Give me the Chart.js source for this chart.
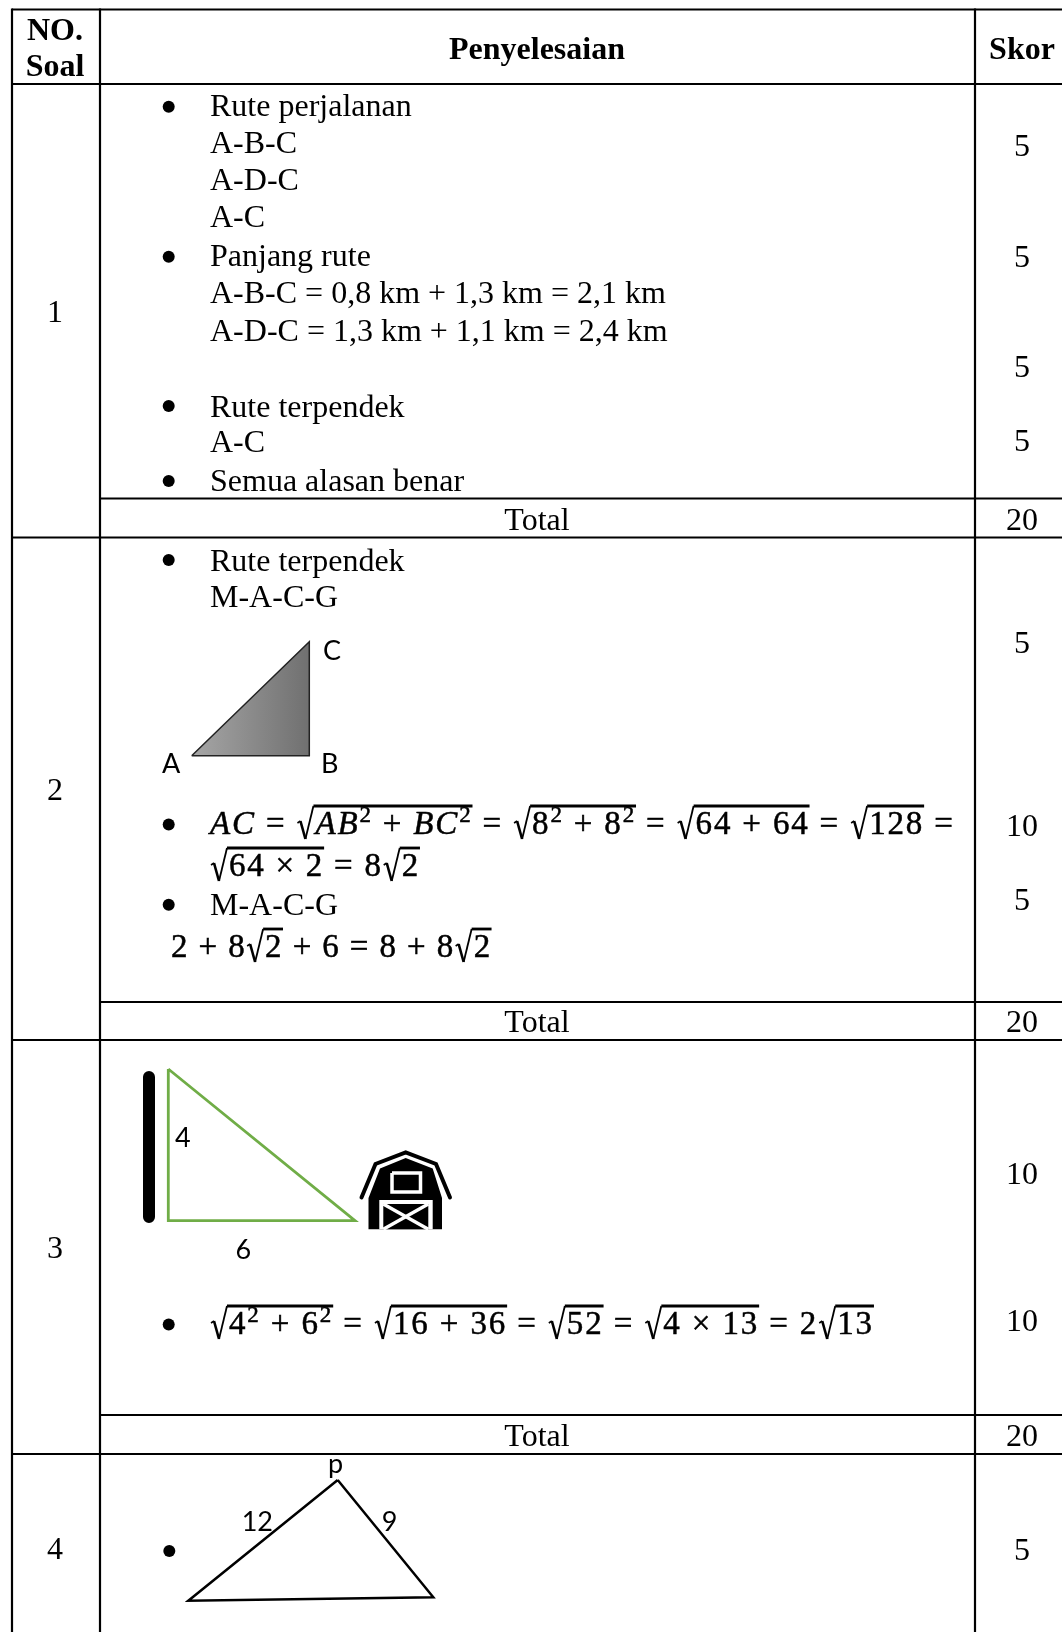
<!DOCTYPE html>
<html>
<head>
<meta charset="utf-8">
<title>Penyelesaian</title>
<script src="https://cdn.jsdelivr.net/npm/chart.js@4"></script>
<style>
  html,body{margin:0;padding:0;background:#fff}
  canvas{display:block}
</style>
</head>
<body>
<canvas id="sheet" width="1062" height="1632"></canvas>
<script>
// table text
const headNo      = ['NO.','Soal'];
const headAnswer  = 'Penyelesaian';
const headScore   = 'Skor';
const soalNumbers = ['1','2','3','4'];
const totalLabel  = 'Total';
const totalScores = ['20','20','20'];
const scores      = ['5','5','5','5','5','10','5','10','10','5'];
const answerLines = ['Rute perjalanan','A-B-C','A-D-C','A-C','Panjang rute',
  'A-B-C = 0,8 km + 1,3 km = 2,1 km','A-D-C = 1,3 km + 1,1 km = 2,4 km',
  'Rute terpendek','A-C','Semua alasan benar','Rute terpendek','M-A-C-G','M-A-C-G'];

// formulas: string = plain run, i = italic, s = superscript, r = under a root
const i = t=>({i:t}), s = t=>({s:t}), r = (...k)=>({r:k});
const formulaA = [i('AC'),' = ',r(i('AB'),s('2'),' + ',i('BC'),s('2')),' = ',r('8',s('2'),' + 8',s('2')),' = ',r('64 + 64'),' = ',r('128'),' ='];
const formulaB = [r('64 × 2'),' = 8',r('2')];
const formulaC = ['2 + 8',r('2'),' + 6 = 8 + 8',r('2')];
const formulaD = [r('4',s('2'),' + 6',s('2')),' = ',r('16 + 36'),' = ',r('52'),' = ',r('4 × 13'),' = 2',r('13')];

// figure labels
const figureLabels = ['A','B','C','4','6','p','12','9'];

// rows of the table, in page units
const columnRules = [12,100,975];
const fullRules   = [9.5,84,537.5,1040,1454];
const totalRules  = [498.5,1002,1415];
const pageRight   = 1062, pageBottom = 1632;

const soalBase    = [322,800,1258,1559];
const totalBase   = [530,1032,1446];
const scoreBase   = [156,267,377,451,653,836,910,1184,1331,1560];
const answerBase  = [116,153,190,227,265.7,303,340.5,416.5,452,491,570.6,607,915];
const bulletY     = [106.7,256.7,406,481,560,824.6,904.8,1324.5,1551];
const formulaBase = [834,876,957,1334];
const formulaLeft = [210,210,171,210];
const formulaTrack = [1.83,1.75,1.4,1.87];
const labelX      = [162,321,323,175,235.5,328,241.7,381.7];
const labelBase   = [772.7,772.7,660,1147,1259,1473,1530.7,1530.7];

// figures
const triangleABC = [[191.7,755.7],[309.3,755.7],[309.3,641.7],[191.7,755.7]];
const triangleGreen = [[168.3,1069],[168.3,1220.7],[355,1220.7],[168.3,1069]];
const wallBar     = [[149,1077],[149,1217]];
const triangleP   = [[337.7,1480],[433.3,1597.3],[188.3,1600.7],[337.7,1480]];
const barnBody    = [[368.5,1229.3],[368.5,1198],[380,1168.5],[405.7,1158],[432.7,1168.5],[442,1198],[442,1229.3],[368.5,1229.3]];
const barnRoof    = [[361.5,1197.5],[375.5,1164],[405.7,1152.5],[436,1164],[450,1197.5]];
const barnWindow  = [[392,1173],[420.5,1173],[420.5,1192],[392,1192],[392,1173]];
const barnDoor    = [[379.3,1229.3],[379.3,1200],[432.7,1200],[432.7,1229.3],[379.3,1229.3]];
const barnPanel   = [[383.3,1229.3],[383.3,1204],[428.3,1204],[428.3,1229.3],[383.3,1229.3]];
const barnCrossA  = [[383.3,1204],[428.3,1229.3]];
const barnCrossB  = [[428.3,1204],[383.3,1229.3]];

const SERIF = '"Liberation Serif","Times New Roman",serif';
const MATH_SIZE = 33, SUP_SIZE = 23, ROOT_W = 19;
const pts = a => a.map(p=>({x:p[0],y:p[1]}));

function rule(data){
  return {data:data, borderColor:'#000', borderWidth:2.2, pointRadius:0, fill:false, tension:0};
}
function shape(data, stroke, width, fillCol){
  return {data:pts(data), borderColor:stroke, borderWidth:width, pointRadius:0, tension:0,
          fill:fillCol?'shape':false, backgroundColor:fillCol||'transparent', borderJoinStyle:'miter'};
}

const datasets = [];
columnRules.forEach(x=>datasets.push(rule([{x:x,y:fullRules[0]-1},{x:x,y:pageBottom}])));
fullRules.forEach(y=>datasets.push(rule([{x:columnRules[0],y:y},{x:pageRight,y:y}])));
totalRules.forEach(y=>datasets.push(rule([{x:columnRules[1],y:y},{x:pageRight,y:y}])));
datasets.push({data:bulletY.map((y,k)=>({x:k===8?169.3:168.7,y:y})), showLine:false,
               pointRadius:6, pointBackgroundColor:'#000', pointBorderWidth:0});

// grey triangle, shaded left to right. canvas and page units are 1:1 here
const sheetCtx = document.getElementById('sheet').getContext('2d');
const greyFill = sheetCtx.createLinearGradient(triangleABC[0][0],0,triangleABC[1][0],0);
greyFill.addColorStop(0,'#a6a6a6'); greyFill.addColorStop(1,'#707070');
datasets.push(shape(triangleABC,'#222',1.5,greyFill));
datasets.push(shape(triangleGreen,'#70ad47',2.8));
datasets.push(Object.assign(shape(wallBar,'#000',12),{borderCapStyle:'round'}));
datasets.push(shape(triangleP,'#000',2.5));
// barn, back to front
datasets.push(shape(barnBody,'#000',0,'#000'));
datasets.push(Object.assign(shape(barnRoof,'#000',4),{borderCapStyle:'round'}));
datasets.push(shape(barnWindow,'#fff',3.5));
datasets.push(shape(barnDoor,'#fff',0,'#fff'));
datasets.push(shape(barnPanel,'#000',0,'#000'));
datasets.push(shape(barnCrossA,'#fff',3.5));
datasets.push(shape(barnCrossB,'#fff',3.5));
// chart.js paints dataset 0 last unless order says otherwise
datasets.forEach((d,k)=>{ d.order = datasets.length-k; d.clip = false; });

function measure(ctx,tokens){
  let w=0;
  tokens.forEach(t=>{
    if(typeof t==='string'){ ctx.font=MATH_SIZE+'px '+SERIF; w+=ctx.measureText(t).width; }
    else if(t.i){ ctx.font='italic '+MATH_SIZE+'px '+SERIF; w+=ctx.measureText(t.i).width; }
    else if(t.s){ ctx.font=SUP_SIZE+'px '+SERIF; w+=ctx.measureText(t.s).width; }
    else if(t.r){ w+=ROOT_W+measure(ctx,t.r); }
  });
  return w;
}
// math glyphs in the source are heavier than the text face, so thicken them a bit
function heavyText(ctx,t,x,y){
  ctx.lineWidth=0.5;
  ctx.strokeText(t,x,y);
  ctx.fillText(t,x,y);
}
function drawFormula(ctx,tokens,x,base){
  tokens.forEach(t=>{
    if(typeof t==='string'){
      ctx.font=MATH_SIZE+'px '+SERIF; heavyText(ctx,t,x,base); x+=ctx.measureText(t).width;
    } else if(t.i){
      ctx.font='italic '+MATH_SIZE+'px '+SERIF; heavyText(ctx,t.i,x,base); x+=ctx.measureText(t.i).width;
    } else if(t.s){
      ctx.font=SUP_SIZE+'px '+SERIF; heavyText(ctx,t.s,x,base-12); x+=ctx.measureText(t.s).width;
    } else if(t.r){
      const inner=measure(ctx,t.r), top=base-28;
      ctx.beginPath();
      ctx.moveTo(x+1,base-11); ctx.lineTo(x+4,base-13);
      ctx.lineWidth=1.6; ctx.stroke();
      ctx.beginPath();
      ctx.moveTo(x+4,base-13); ctx.lineTo(x+9,base+5);
      ctx.lineWidth=2.6; ctx.stroke();
      ctx.beginPath();
      ctx.moveTo(x+9,base+5); ctx.lineTo(x+17,top);
      ctx.lineWidth=1.8; ctx.stroke();
      ctx.beginPath();
      ctx.moveTo(x+17,top); ctx.lineTo(x+ROOT_W+inner,top);
      ctx.lineWidth=2.8; ctx.stroke();
      drawFormula(ctx,t.r,x+ROOT_W,base);
      x+=ROOT_W+inner;
    }
  });
}

const sheetText = {
  id:'sheetText',
  afterDatasetsDraw(chart){
    const ctx=chart.ctx, X=v=>chart.scales.x.getPixelForValue(v), Y=v=>chart.scales.y.getPixelForValue(v);
    const centerNo=55, centerAnswer=537, centerScore=1022, leftAnswer=210;
    ctx.save();
    ctx.fillStyle='#000'; ctx.strokeStyle='#000'; ctx.textBaseline='alphabetic';

    ctx.textAlign='center';
    ctx.font='bold 32px '+SERIF;
    ctx.fillText(headNo[0],X(centerNo),Y(39.5));
    ctx.fillText(headNo[1],X(centerNo),Y(76));
    ctx.fillText(headAnswer,X(centerAnswer),Y(58.5));
    ctx.fillText(headScore,X(centerScore),Y(58.5));

    ctx.font='32px '+SERIF;
    soalNumbers.forEach((t,k)=>ctx.fillText(t,X(centerNo),Y(soalBase[k])));
    scores.forEach((t,k)=>ctx.fillText(t,X(centerScore),Y(scoreBase[k])));
    totalBase.forEach((b,k)=>{
      ctx.fillText(totalLabel,X(centerAnswer),Y(b));
      ctx.fillText(totalScores[k],X(centerScore),Y(b));
    });

    ctx.textAlign='left';
    answerLines.forEach((t,k)=>ctx.fillText(t,X(leftAnswer),Y(answerBase[k])));

    [formulaA,formulaB,formulaC,formulaD].forEach((f,k)=>{
      ctx.letterSpacing=formulaTrack[k]+'px';
      drawFormula(ctx,f,X(formulaLeft[k]),Y(formulaBase[k]));
    });
    ctx.letterSpacing='0px';

    ctx.font='27px Lato,sans-serif';
    figureLabels.forEach((t,k)=>ctx.fillText(t,X(labelX[k]),Y(labelBase[k])));
    ctx.restore();
  }
};

new Chart(document.getElementById('sheet'),{
  type:'line',
  data:{datasets:datasets},
  plugins:[sheetText],
  options:{
    responsive:false, animation:false, events:[],
    layout:{padding:0,autoPadding:false},
    scales:{
      x:{type:'linear',min:0,max:pageRight,display:false},
      y:{type:'linear',min:0,max:pageBottom,reverse:true,display:false}
    },
    plugins:{legend:{display:false},tooltip:{enabled:false}}
  }
});
</script>
</body>
</html>
